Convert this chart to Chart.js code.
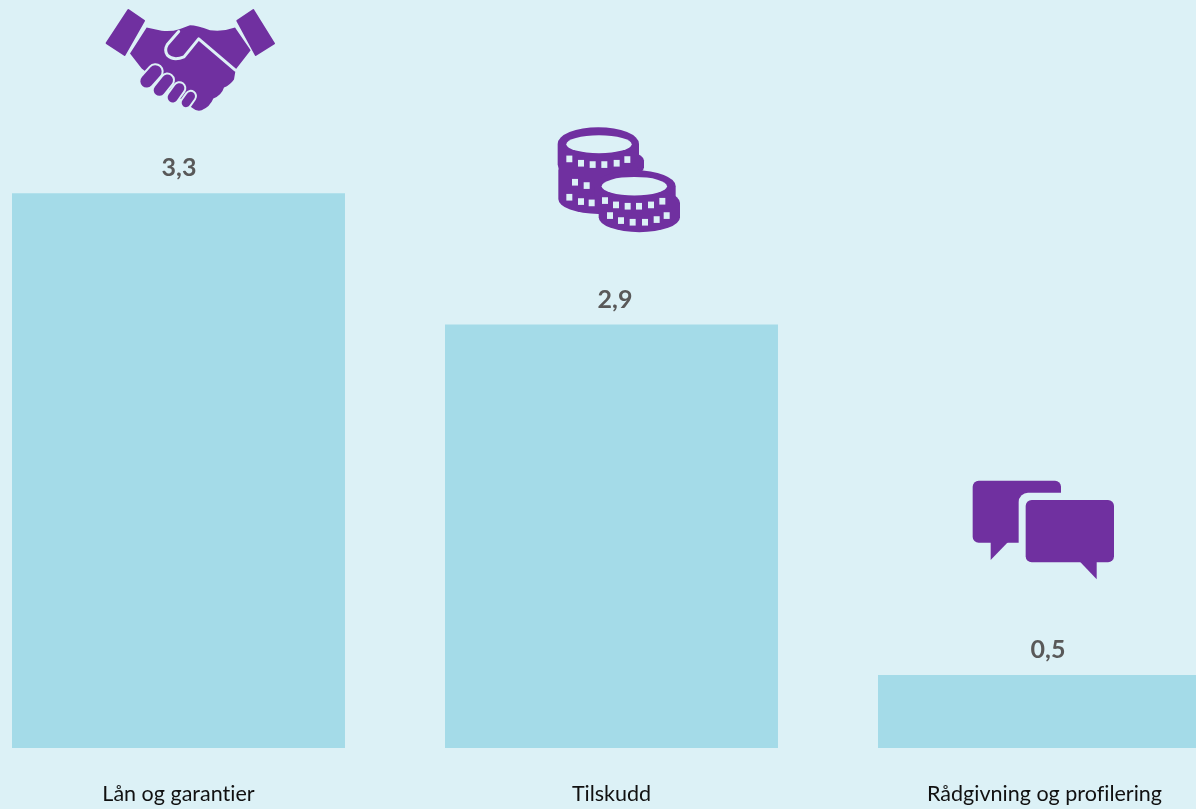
<!DOCTYPE html>
<html lang="no">
<head>
<meta charset="utf-8">
<title>Lån og garantier, tilskudd, rådgivning</title>
<script src="https://cdn.jsdelivr.net/npm/chart.js@4"></script>
<style>
html,body{margin:0;padding:0;width:1196px;height:809px;overflow:hidden;background:#DCF1F6}
#wrap{position:absolute;left:-38px;top:0;width:1299px;height:809px}
</style>
</head>
<body>
<div id="wrap"><canvas id="c" width="1299" height="809"></canvas></div>
<script>
const categories = ["Lån og garantier", "Tilskudd", "Rådgivning og profilering"];
// Heights (the first bar is drawn taller than its printed label).
const barValues = [3.8, 2.9, 0.5];
const printedLabels = ["3,3", "2,9", "0,5"];

const BG = "#DCF1F6", BAR = "#A4DBE8", PURPLE = "#7030A0";
const FONT = "Lato, Carlito, Calibri, sans-serif";

function handshake(ctx){
  ctx.fillStyle = PURPLE;
  ctx.strokeStyle = PURPLE; ctx.lineJoin = "round"; ctx.lineWidth = 6;
  [[[115,30],[162,62],[104,164],[50,129]], [[490,30],[552,130],[497,164],[442,62]]].forEach(p=>{
    ctx.beginPath(); p.forEach((q,i)=> i?ctx.lineTo(q[0],q[1]):ctx.moveTo(q[0],q[1])); ctx.closePath(); ctx.fill(); ctx.stroke();
  });
  ctx.fill(new Path2D("M170 82 L215 92 Q245 95 268 87 L300 75 Q320 75 360 90 Q400 95 435 82 L482 150 L437 208 L432 238 Q420 255 402 262 Q395 285 370 295 Q360 320 335 330 Q320 335 305 322 L155 205 L120 160 Z"));
  ctx.lineCap = "round";
  ctx.strokeStyle = BG; ctx.lineWidth = 9;
  ctx.stroke(new Path2D("M266 94 L232 133 Q222 150 232 165 Q250 183 282 170 L326 116 L436 210"));
  [[[196,214],[170,243],38],[[232,240],[208,270],34],[[268,264],[248,292],30],[[302,288],[288,308],26]].forEach(f=>{
    ctx.strokeStyle = BG; ctx.lineWidth = f[2]+12;
    ctx.beginPath(); ctx.moveTo(f[0][0],f[0][1]); ctx.lineTo(f[1][0],f[1][1]); ctx.stroke();
  });
  [[[196,214],[170,243],38],[[232,240],[208,270],34],[[268,264],[248,292],30],[[302,288],[288,308],26]].forEach(f=>{
    ctx.strokeStyle = PURPLE; ctx.lineWidth = f[2];
    ctx.beginPath(); ctx.moveTo(f[0][0],f[0][1]); ctx.lineTo(f[1][0],f[1][1]); ctx.stroke();
  });
}

function coins(ctx){
  ctx.fillStyle = PURPLE;
  const stack = (cx,cy,rx,ry,depth)=>{
    ctx.beginPath();
    ctx.moveTo(cx-rx,cy);
    ctx.ellipse(cx,cy,rx,ry,0,Math.PI,2*Math.PI);
    ctx.lineTo(cx+rx,cy+depth);
    ctx.ellipse(cx,cy+depth,rx,ry,0,0,Math.PI);
    ctx.closePath(); ctx.fill();
  };
  stack(175,85,122,50,62);
  stack(190,135,122,38,20);
  stack(175,165,120,45,85);
  stack(285,212,122,48,48);
  stack(298,262,122,45,43);
  ctx.fillStyle = BG;
  ctx.beginPath(); ctx.ellipse(177,86,98,27,0,0,2*Math.PI); ctx.fill();
  ctx.beginPath(); ctx.ellipse(283,212,98,28,0,0,2*Math.PI); ctx.fill();
  [[88,130],[123,143],[158,147],[193,147],[230,143],[262,132],
   [105,200],[140,210],[88,245],[123,258],[155,262],
   [195,255],[228,268],[263,272],[297,272],[333,268],[367,257],
   [210,300],[243,315],[278,320],[315,320],[350,312],[380,300]].forEach(t=>{
    ctx.fillRect(t[0]-9,t[1]-10,18,20);
  });
}

function bubbles(ctx){
  ctx.fillStyle = PURPLE;
  ctx.beginPath(); ctx.roundRect(38,32,265,186,18); ctx.fill();
  ctx.beginPath(); ctx.moveTo(92,210); ctx.lineTo(92,270); ctx.lineTo(150,210); ctx.closePath(); ctx.fill();
  ctx.fillStyle = BG;
  ctx.beginPath(); ctx.roundRect(176,68,310,240,28); ctx.fill();
  ctx.fillStyle = PURPLE;
  ctx.beginPath(); ctx.roundRect(197,90,265,187,18); ctx.fill();
  ctx.beginPath(); ctx.moveTo(355,270); ctx.lineTo(410,328); ctx.lineTo(410,270); ctx.closePath(); ctx.fill();
}

const icons = [
  {draw:handshake, dx:-88.5, dy:-193},
  {draw:coins,     dx:-71.5, dy:-209},
  {draw:bubbles,   dx:-84.5, dy:-205}
];
const labelShift = [0.5, 3.5, 3.5];

const decorate = {
  id:"decorate",
  beforeDraw(chart){
    chart.ctx.letterSpacing = "0.01px";
    chart.ctx.textRendering = "optimizeSpeed";
  },
  afterDatasetsDraw(chart){
    const ctx = chart.ctx;
    chart.getDatasetMeta(0).data.forEach((bar,i)=>{
      ctx.save();
      ctx.fillStyle = "#595959";
      ctx.font = "bold 25px " + FONT;
      ctx.textAlign = "center"; ctx.textBaseline = "middle";
      ctx.fillText(printedLabels[i], bar.x + labelShift[i], bar.y - 25);
      ctx.restore();
      ctx.save();
      ctx.translate(bar.x + icons[i].dx, bar.y + icons[i].dy);
      ctx.scale(1/3,1/3);
      icons[i].draw(ctx);
      ctx.restore();
    });
  }
};

new Chart(document.getElementById("c"),{
  type:"bar",
  data:{labels:categories,datasets:[{data:barValues,backgroundColor:BAR,borderWidth:0,barPercentage:0.769,categoryPercentage:1}]},
  options:{
    responsive:false,animation:false,
    layout:{padding:0},
    plugins:{legend:{display:false},tooltip:{enabled:false},title:{display:false}},
    scales:{
      y:{display:false,min:0,max:5.123},
      x:{
        grid:{display:false,drawTicks:false},border:{display:false},
        ticks:{color:"#111111",font:{family:FONT,size:21.5},padding:33,maxRotation:0,autoSkip:false},
        afterFit(a){a.height=61;}
      }
    }
  },
  plugins:[decorate]
});
</script>
</body>
</html>
